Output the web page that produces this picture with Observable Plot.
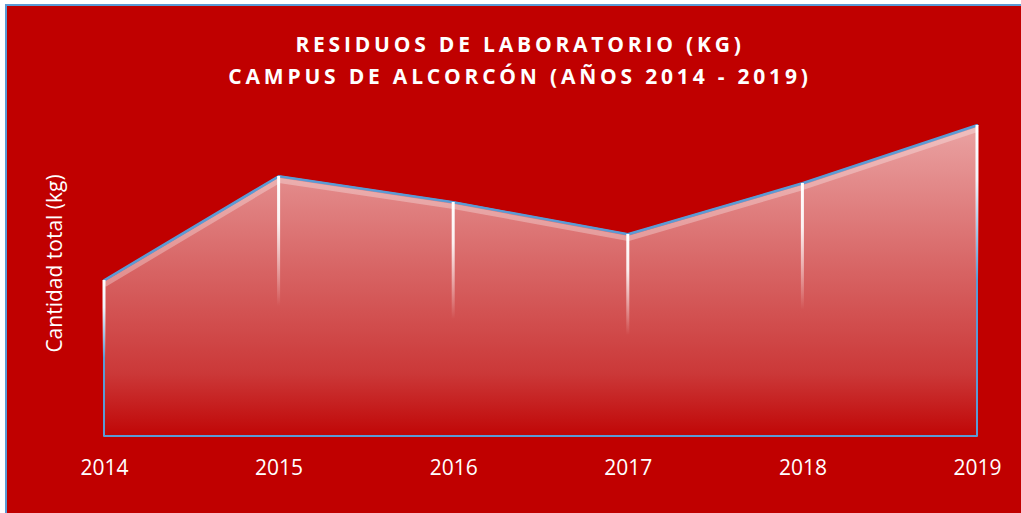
<!DOCTYPE html>
<html>
<head>
<meta charset="utf-8">
<script src="https://cdn.jsdelivr.net/npm/d3@7"></script>
<script src="https://cdn.jsdelivr.net/npm/@observablehq/plot@0.6"></script>
<style>
  html, body { margin: 0; padding: 0; background: #ffffff; width: 1021px; height: 513px; overflow: hidden; }
  #chart {
    position: absolute; left: 5px; top: 4px; width: 1016px; height: 509px;
    box-sizing: border-box; border-left: 2px solid #5b9bd5; border-top: 2px solid #5b9bd5;
    background: #c00000; overflow: hidden;
  }
  #title {
    height: 94px; box-sizing: border-box; padding-top: 22px; padding-left: 12px;
    text-align: center; color: #ffffff; font-family: "Open Sans", sans-serif;
    font-weight: 700; font-size: 21px; line-height: 32px; letter-spacing: 3.8px;
  }
  #plot svg { display: block; }
</style>
</head>
<body>
<div id="chart">
  <div id="title"></div>
  <div id="plot"></div>
</div>
<script>
const titleLines = ["RESIDUOS DE LABORATORIO (KG)", "CAMPUS DE ALCORCÓN (AÑOS 2014 - 2019)"];
const yLabel = "Cantidad total (kg)";
const years = [2014, 2015, 2016, 2017, 2018, 2019];
const cantidad = [1560, 2600, 2340, 2020, 2530, 3110];

const data = years.map((year, i) => ({year, value: cantidad[i]}));

document.getElementById("title").innerHTML = titleLines.map(t => `<div>${t}</div>`).join("");

const defs = () => {
  const d = d3.create("svg:defs");
  const g = d.append("linearGradient").attr("id", "areaGrad")
    .attr("x1", 0).attr("y1", 0).attr("x2", 0).attr("y2", 1);
  [[0, "#eaa3a3"], [0.45, "#d86666"], [0.8, "#cb3838"], [1, "#c00606"]]
    .forEach(([o, c]) => g.append("stop").attr("offset", o).attr("stop-color", c));
  const w = d.append("linearGradient").attr("id", "dropGrad")
    .attr("x1", 0).attr("y1", 0).attr("x2", 0).attr("y2", 1);
  [[0, 1], [0.35, 0.9], [1, 0]]
    .forEach(([o, a]) => w.append("stop").attr("offset", o).attr("stop-color", "#ffffff").attr("stop-opacity", a));
  return d.node();
};

const chart = Plot.plot({
  width: 1014,
  height: 413,
  marginLeft: 97,
  marginRight: 44,
  marginTop: 16,
  marginBottom: 77,
  style: {background: "transparent", color: "#ffffff", fontFamily: "'Open Sans', sans-serif", fontSize: "21px"},
  x: {type: "linear", domain: [2014, 2019], ticks: years, tickFormat: d => String(d), tickSize: 0, tickPadding: 24, label: null},
  y: {domain: [0, 3200], axis: null},
  marks: [
    defs,
    Plot.areaY(data, {x: "year", y: "value", fill: "url(#areaGrad)", stroke: "#5b9bd5", strokeWidth: 2}),
    Plot.line(data, {x: "year", y: "value", dy: 4, stroke: "#ffffff", strokeOpacity: 0.3, strokeWidth: 5, strokeLinecap: "butt"}),
    Plot.line(data, {x: "year", y: "value", stroke: "#5b9bd5", strokeWidth: 2}),
    Plot.rect(data, {x1: "year", x2: "year", y1: "value", y2: d => d.value * 0.5, insetLeft: -1.5, insetRight: -1.5, fill: "url(#dropGrad)"}),
    Plot.text([yLabel], {text: d => d, frameAnchor: "left", textAnchor: "middle", rotate: -90, dx: -49, dy: -13, fill: "#ffffff", fontSize: 21})
  ]
});
document.getElementById("plot").appendChild(chart);
</script>
</body>
</html>
